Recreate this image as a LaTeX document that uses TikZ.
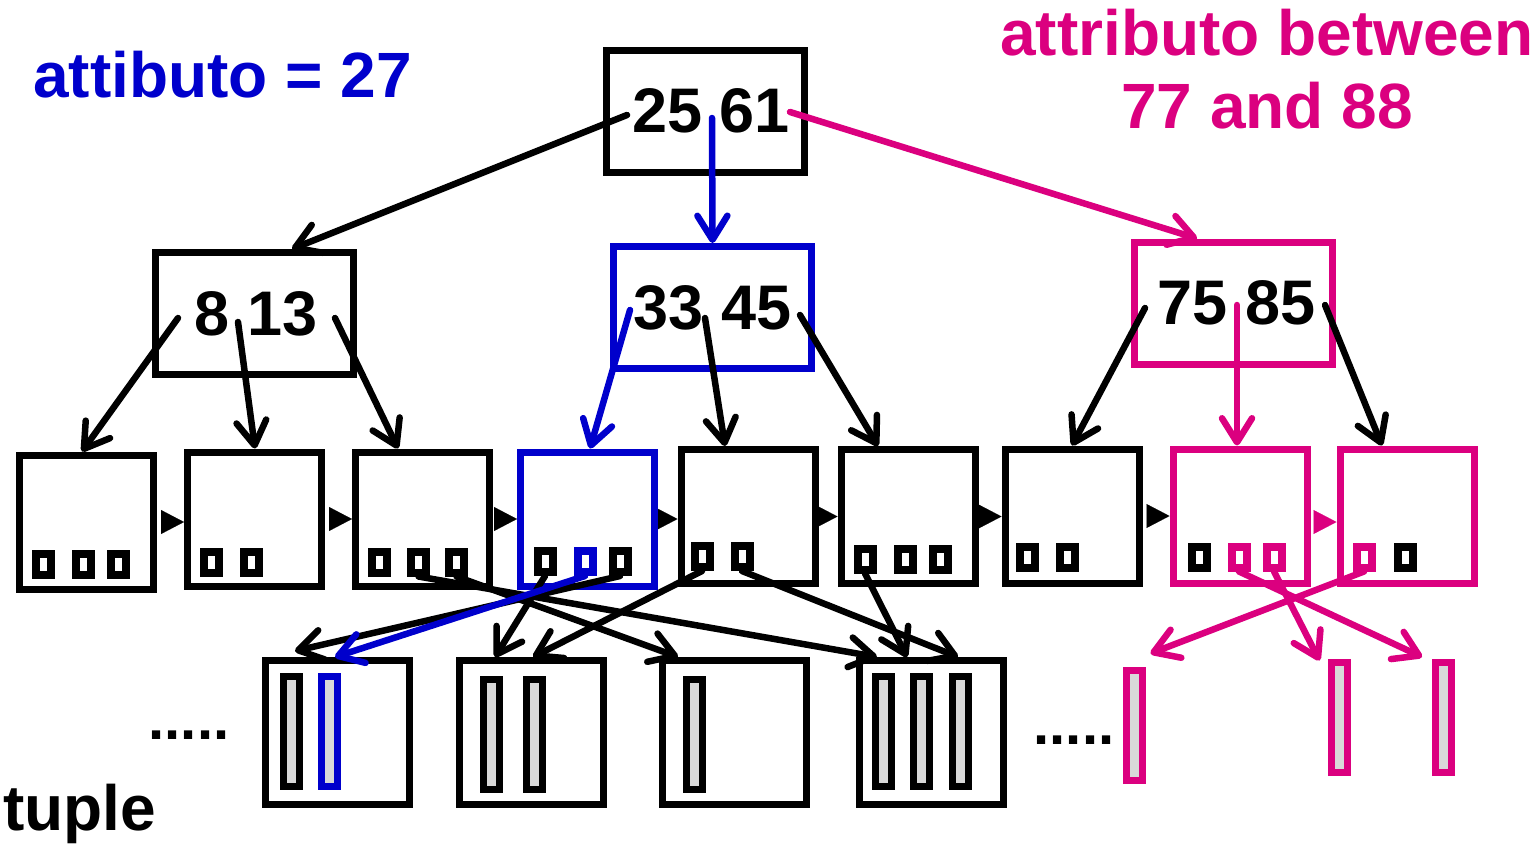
\documentclass[tikz,border=0pt]{standalone}
\usepackage{fontspec}
\setmainfont{Liberation Sans}
\usetikzlibrary{arrows.meta,calc,backgrounds}
\definecolor{myblue}{RGB}{0,0,204}
\definecolor{mymag}{RGB}{219,0,127}
\definecolor{bargray}{RGB}{217,217,217}
\begin{document}
\begin{tikzpicture}[x=1pt,y=-1pt,
  inode/.style={draw, line width=7pt, minimum width=198pt, minimum height=122pt, inner sep=0pt, font=\fontsize{63}{63}\selectfont\bfseries},
  leaf/.style={draw, line width=7pt, minimum width=134pt, minimum height=134pt, inner sep=0pt},
  ptr/.style={draw, line width=8pt, minimum width=15pt, minimum height=21pt, inner sep=0pt},
  tblock/.style={draw, line width=7pt, minimum width=144pt, minimum height=144pt, inner sep=0pt},
  tbar/.style={draw, line width=7pt, fill=bargray, minimum width=16pt, minimum height=110pt, inner sep=0pt},
  arr/.style={line width=6.5pt, line cap=round, -{Straight Barb[length=24pt,width=30pt,round]}},
  chain/.style={draw=white, line width=0.1pt, -{Triangle[length=23pt,width=24pt,color=#1]}},
  chain/.default=black,
  lbl/.style={inner sep=0pt, font=\fontsize{64}{64}\selectfont\bfseries},
  dots/.style={inner sep=0pt, font=\fontsize{58}{58}\selectfont\bfseries},
]
\useasboundingbox (0,0) rectangle (1536,844);

% labels
\node[lbl, text=myblue, anchor=base west] (q1) at (33,97) {attibuto = 27};
\node[lbl, text=mymag, anchor=base] (q2a) at (1267,55) {attributo between};
\node[lbl, text=mymag, anchor=base] (q2b) at (1267,128) {77 and 88};
\node[lbl, anchor=base west] (tup) at (3,830) {tuple};

% root and interior nodes
\node[inode] (root) at (705.5,111) {\hspace*{11pt}25 61};
\node[inode] (i1) at (254.5,313.5) {\hspace*{3pt}8 13};
\node[inode, draw=myblue] (i2) at (712.5,307.5) {33 45};
\node[inode, draw=mymag] (i3) at (1233,303) {\hspace*{7pt}75 85};

% leaves
\node[leaf] (l1) at (86.5,522) {};
\node[leaf] (l2) at (254.5,519) {};
\node[leaf] (l3) at (422.5,519) {};
\node[leaf, draw=myblue] (l4) at (587.5,519) {};
\node[leaf] (l5) at (748,516.5) {};
\node[leaf] (l6) at (908,516.5) {};
\node[leaf] (l7) at (1072,516) {};
\node[leaf, draw=mymag] (l8) at (1240,516) {};
\node[leaf, draw=mymag] (l9) at (1407,516) {};

% pointers in leaves
\node[ptr] (l1a) at (43.5,564) {};
\node[ptr] (l1b) at (83.5,564) {};
\node[ptr] (l1c) at (118.5,564) {};
\node[ptr] (l2a) at (211.5,562) {};
\node[ptr] (l2b) at (251.5,562) {};
\node[ptr] (l3a) at (379.5,562) {};
\node[ptr] (l3b) at (418.5,562) {};
\node[ptr] (l3c) at (456.5,562) {};
\node[ptr] (l4a) at (545,561.5) {};
\node[ptr, draw=myblue] (l4b) at (585,561.5) {};
\node[ptr] (l4c) at (620,561.5) {};
\node[ptr] (l5a) at (702,556.5) {};
\node[ptr] (l5b) at (742,556.5) {};
\node[ptr] (l6a) at (865,559) {};
\node[ptr] (l6b) at (905,559) {};
\node[ptr] (l6c) at (940,559) {};
\node[ptr] (l7a) at (1027,557) {};
\node[ptr] (l7b) at (1067,557) {};
\node[ptr] (l8a) at (1199,557) {};
\node[ptr, draw=mymag] (l8b) at (1239,557) {};
\node[ptr, draw=mymag] (l8c) at (1274,557) {};
\node[ptr, draw=mymag] (l9a) at (1364,557) {};
\node[ptr] (l9b) at (1405,557) {};

% tuple blocks
\node[tblock] (t1) at (337.5,732.5) {};
\node[tblock] (t2) at (531.5,732.5) {};
\node[tblock] (t3) at (734,732.5) {};
\node[tblock] (t4) at (931.5,732.5) {};
\node[tbar] (t1a) at (291.5,731.5) {};
\node[tbar, draw=myblue] (t1b) at (329,731.5) {};
\node[tbar] (t2a) at (491,734) {};
\node[tbar] (t2b) at (534,734) {};
\node[tbar] (t3a) at (694.5,734) {};
\node[tbar] (t4a) at (883.5,731.5) {};
\node[tbar] (t4b) at (921,731.5) {};
\node[tbar] (t4c) at (960.5,731.5) {};
\node[tbar, draw=mymag] (m1) at (1134.5,725.5) {};
\node[tbar, draw=mymag] (m2) at (1339.5,717.5) {};
\node[tbar, draw=mymag] (m3) at (1443.5,717.5) {};

\node[dots, anchor=base] (d1) at (189,739) {.....};
\node[dots, anchor=base] (d2) at (1074,744) {.....};

% leaf chain (behind the leaves)
\begin{pgfonlayer}{background}
\draw[chain] (l1.east) -- (l1.east -| l2.west);
\draw[chain] (l2.east) -- (l2.east -| l3.west);
\draw[chain] (l3.east) -- (l3.east -| l4.west);
\draw[chain] (l4.east) -- (l4.east -| l5.west);
\draw[chain] (l5.east) -- (l5.east -| l6.west);
\draw[chain] (l6.east) -- (l6.east -| l7.west);
\draw[chain] (l7.east) -- (l7.east -| l8.west);
\draw[chain=mymag] ($(l8.east)+(0,6)$) -- ($(l8.east -| l9.west)+(0,6)$);
\end{pgfonlayer}

% tree pointers
\coordinate (r0) at ($(root)+(-78.5,4)$);
\coordinate (r1) at ($(root)+(6.5,7)$);
\coordinate (r2) at ($(root)+(84.5,1)$);
\draw[arr] (r0) -- ($(i1.north)+(37.5,0)$);
\draw[arr, myblue] (r1) -- ($(i2.north)+(0,0)$);
\draw[arr, mymag] (r2) -- ($(i3.north)+(-36,0)$);

\coordinate (p10) at ($(i1)+(-76.5,4.5)$);
\coordinate (p11) at ($(i1)+(-16.5,8.5)$);
\coordinate (p12) at ($(i1)+(80.5,4.5)$);
\draw[arr] (p10) -- ($(l1.north)+(-4.5,0)$);
\draw[arr] (p11) -- ($(l2.north)+(0.5,0)$);
\draw[arr] (p12) -- ($(l3.north)+(-24.5,0)$);

\coordinate (p20) at ($(i2)+(-82.5,2.5)$);
\coordinate (p21) at ($(i2)+(-7.5,10.5)$);
\coordinate (p22) at ($(i2)+(87.5,7.5)$);
\draw[arr, myblue] (p20) -- ($(l4.north)+(2.5,0)$);
\draw[arr] (p21) -- ($(l5.north)+(-23,0)$);
\draw[arr] (p22) -- ($(l6.north)+(-30,0)$);

\coordinate (p30) at ($(i3)+(-88,5)$);
\coordinate (p31) at ($(i3)+(4,2)$);
\coordinate (p32) at ($(i3)+(92,2)$);
\draw[arr] (p30) -- ($(l7.north)+(0,0)$);
\draw[arr, mymag] (p31) -- ($(l8.north)+(-3,0)$);
\draw[arr] (p32) -- ($(l9.north)+(-25,0)$);

% leaf pointers to tuples
\draw[arr] (l3b.south) -- ($(t4.north)+(-54.5,0)$);
\draw[arr] (l3c.south) -- ($(t3.north)+(-56,0)$);
\draw[arr] (l4a.south) -- ($(t2.north)+(-36.5,0)$);
\draw[arr] (l4c.south) -- ($(t1.north)+(-42.5,-6)$);
\draw[arr] (l5a.south) -- ($(t2.north)+(1.5,0)$);
\draw[arr] (l5b.south) -- ($(t4.north)+(26.5,0)$);
\draw[arr] (l6a.south) -- ($(t4.north)+(-24.5,0)$);
\draw[arr, myblue] (l4b.south) -- ($(t1.north)+(-2.5,0)$);

\draw[arr, mymag] (l8b.south) -- ($(m3.north west)+(-10,-2)$);
\draw[arr, mymag] (l8c.south) -- ($(m2.north west)+(-8.5,1.5)$);
\draw[arr, mymag] (l9a.south) -- ($(m1.north east)+(4.5,-13.5)$);
\end{tikzpicture}
\end{document}
